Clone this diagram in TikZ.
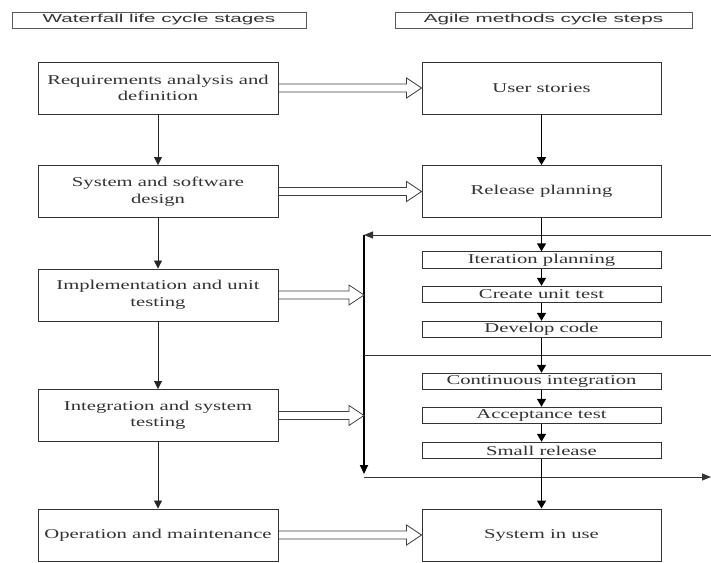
\documentclass[tikz,border=0pt]{standalone}
\usepackage{fontspec}
\setmainfont{Liberation Serif}[FakeStretch=1.53]
\newfontfamily\hdrfont{Liberation Sans}[FakeStretch=1.8]
\usetikzlibrary{arrows.meta,calc}
\begin{document}
\begin{tikzpicture}[x=1pt,y=-1pt,
  boxtext/.style={font=\fontsize{13.5}{16.5}\selectfont, text=black!80},
  wf/.style={draw=black!80, line width=0.9pt, minimum width=240pt, minimum height=52pt, inner sep=0pt, align=center, boxtext},
  sb/.style={draw=black!80, line width=0.9pt, minimum width=239pt, minimum height=16.5pt, inner sep=0pt, boxtext},
  hdr/.style={draw=black!65, line width=0.9pt, minimum height=16pt, inner sep=0pt, text=black!80, font=\hdrfont\fontsize{11.5}{13}\selectfont},
  wfarrow/.style={draw=black!85, line width=0.8pt, -{Triangle[length=8pt,width=8pt]}},
  agarrow/.style={draw=black, line width=1.4pt, -{Triangle[length=8pt,width=9pt]}},
  fb/.style={draw=black!80, line width=0.9pt},
  hollow/.style={draw=black!75, line width=0.8pt, to path={
    let \p1=(\tikztostart), \p2=(\tikztotarget) in
    (\x1,\y1+4pt) -- (\x2-15pt,\y1+4pt) -- (\x2-15pt,\y1+10pt) -- (\x2,\y1)
    -- (\x2-15pt,\y1-10pt) -- (\x2-15pt,\y1-4pt) -- (\x1,\y1-4pt)}}
]
\useasboundingbox (0,0) rectangle (711,562);
\fill[white] (0,0) rectangle (711,562);

% headers
\node[hdr, minimum width=294pt] (h1) at (159,20) {Waterfall life cycle stages};
\node[hdr, minimum width=297pt] (h2) at (543.5,20) {Agile methods cycle steps};

% waterfall
\node[wf] (req) at (158,88) {Requirements analysis and\\definition};
\node[wf] (sys) at (158,191.5) {System and software\\design};
\node[wf] (imp) at (158,295) {Implementation and unit\\testing};
\node[wf] (int) at (158,415.5) {Integration and system\\testing};
\node[wf] (ope) at (158,535) {Operation and maintenance};

% agile
\node[wf, minimum width=239pt] (us) at (541.5,88) {User stories};
\node[wf, minimum width=239pt] (rp) at (541.5,191.5) {Release planning};
\node[sb] (ip) at (541.5,260) {Iteration planning};
\node[sb] (cu) at (541.5,294.5) {Create unit test};
\node[sb] (dc) at (541.5,329.5) {Develop code};
\node[sb] (ci) at (541.5,381.5) {Continuous integration};
\node[sb] (at) at (541.5,415.5) {Acceptance test};
\node[sb] (sr) at (541.5,450.5) {Small release};
\node[wf, minimum width=239pt] (siu) at (541.5,535) {System in use};

% feedback frame
\coordinate (tl) at (364,235);
\coordinate (tr) at (711,235);
\coordinate (ml) at (364,355);
\coordinate (mr) at (711,355);
\coordinate (vend) at (364,474);
\coordinate (bl) at (364,477);
\coordinate (br) at (711,477);
\coordinate (a3) at (364,295);
\coordinate (a4) at (364,415.5);

\draw[fb, -{Triangle[length=9pt,width=7pt]}] (tr) -- (tl);
\draw[draw=black, line width=1.8pt, -{Triangle[length=9pt,width=8pt]}] (tl) -- (vend);
\draw[fb] (ml) -- (mr);
\draw[fb, -{Triangle[length=9pt,width=7pt]}] (bl) -- (br);

% waterfall arrows
\draw[wfarrow] (req) -- (sys);
\draw[wfarrow] (sys) -- (imp);
\draw[wfarrow] (imp) -- (int);
\draw[wfarrow] (int) -- (ope);

% agile arrows
\draw[agarrow] (us) -- (rp);
\draw[agarrow] (rp) -- (ip);
\draw[agarrow] (ip) -- (cu);
\draw[agarrow] (cu) -- (dc);
\draw[agarrow] (dc) -- (ci);
\draw[agarrow] (ci) -- (at);
\draw[agarrow] (at) -- (sr);
\draw[agarrow] (sr) -- (siu);

% hollow arrows
\draw[hollow] (req.east) to (us.west);
\draw[hollow] (sys.east) to (rp.west);
\draw[hollow] (imp.east) to (a3);
\draw[hollow] (int.east) to (a4);
\draw[hollow] (ope.east) to (siu.west);
\end{tikzpicture}
\end{document}
